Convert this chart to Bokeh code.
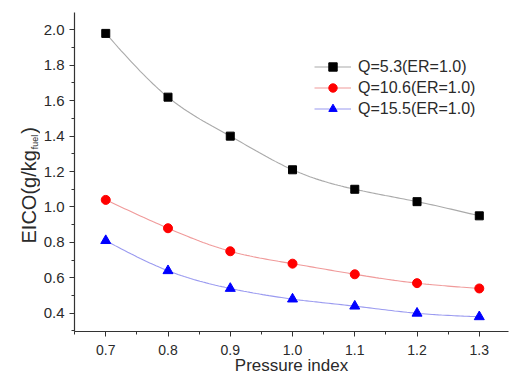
import numpy as np
from bokeh.plotting import figure
from bokeh.layouts import row
from bokeh.models import Range1d, FixedTicker, Legend, LegendItem
from bokeh.core.properties import value
from bokeh.embed import file_html
from bokeh.resources import INLINE

# ---- data ----
pressure_index = [0.7, 0.8, 0.9, 1.0, 1.1, 1.2, 1.3]
eico_q53 = [1.98, 1.62, 1.40, 1.21, 1.10, 1.03, 0.95]
eico_q106 = [1.04, 0.88, 0.75, 0.68, 0.62, 0.57, 0.54]
eico_q155 = [0.81, 0.64, 0.54, 0.48, 0.44, 0.40, 0.38]
series_names = ["Q=5.3(ER=1.0)", "Q=10.6(ER=1.0)", "Q=15.5(ER=1.0)"]
x_ticks = [0.7, 0.8, 0.9, 1.0, 1.1, 1.2, 1.3]
x_tick_labels = ["0.7", "0.8", "0.9", "1.0", "1.1", "1.2", "1.3"]
y_ticks = [0.4, 0.6, 0.8, 1.0, 1.2, 1.4, 1.6, 1.8, 2.0]
y_tick_labels = ["0.4", "0.6", "0.8", "1.0", "1.2", "1.4", "1.6", "1.8", "2.0"]
x_title = "Pressure index"
y_title_main = "EICO(g/kg"
y_title_sub = "fuel"
y_title_end = ")"


def smooth(xs, ys, n=120):
    """Natural cubic spline through the data points (for drawing the curve)."""
    x = np.asarray(xs, float)
    y = np.asarray(ys, float)
    m = len(x)
    h = np.diff(x)
    A = np.zeros((m, m))
    r = np.zeros(m)
    A[0, 0] = A[-1, -1] = 1.0
    for i in range(1, m - 1):
        A[i, i - 1] = h[i - 1]
        A[i, i] = 2 * (h[i - 1] + h[i])
        A[i, i + 1] = h[i]
        r[i] = 3 * ((y[i + 1] - y[i]) / h[i] - (y[i] - y[i - 1]) / h[i - 1])
    c = np.linalg.solve(A, r)
    b = (y[1:] - y[:-1]) / h - h * (2 * c[:-1] + c[1:]) / 3
    d = (c[1:] - c[:-1]) / (3 * h)
    xx = np.linspace(x[0], x[-1], n)
    idx = np.clip(np.searchsorted(x, xx, side="right") - 1, 0, m - 2)
    dx = xx - x[idx]
    yy = y[idx] + b[idx] * dx + c[idx] * dx ** 2 + d[idx] * dx ** 3
    return xx, yy


TOTAL_W, H = 510, 382
TW = 40                      # width of the strip holding the y-axis title
W = TOTAL_W - TW
FRAME_LEFT = 73 - TW
TOP, BOTTOM, RIGHT = 12, 51, 2
frame_w = W - FRAME_LEFT - RIGHT
frame_h = H - TOP - BOTTOM
x0 = 0.6498
x1 = x0 + frame_w / 624.0
y0, y1 = 0.297, 2.098
px_per_y = frame_h / (y1 - y0)

font = "Liberation Sans"
text_color = "#2a2a2a"
axis_color = "#333333"

yr = Range1d(y0, y1)
p = figure(width=W, height=H, output_backend="svg", toolbar_location=None,
           x_range=Range1d(x0, x1), y_range=yr,
           min_border_left=FRAME_LEFT, min_border_right=RIGHT,
           min_border_top=TOP, min_border_bottom=BOTTOM)
p.outline_line_color = None
p.xgrid.visible = False
p.ygrid.visible = False
p.background_fill_color = "white"
p.border_fill_color = "white"

for ax in (p.xaxis[0], p.yaxis[0]):
    ax.axis_line_color = axis_color
    ax.axis_line_width = 1.2
    ax.major_tick_line_color = axis_color
    ax.minor_tick_line_color = axis_color
    ax.major_tick_out = 5
    ax.major_tick_in = 0
    ax.minor_tick_out = 3
    ax.minor_tick_in = 0
    ax.major_label_text_font = font
    ax.major_label_text_color = text_color
p.yaxis[0].major_label_text_font_size = "15px"
p.xaxis[0].major_label_text_font_size = "14px"

x_minor = [round(t + 0.05, 2) for t in [0.6] + x_ticks]
y_minor = [round(t - 0.1, 2) for t in y_ticks] + [2.1]
p.xaxis[0].ticker = FixedTicker(ticks=x_ticks, minor_ticks=x_minor)
p.yaxis[0].ticker = FixedTicker(ticks=y_ticks, minor_ticks=y_minor)
p.xaxis[0].major_label_overrides = dict(zip(x_ticks, x_tick_labels))
p.yaxis[0].major_label_overrides = dict(zip(y_ticks, y_tick_labels))
p.xaxis[0].major_label_standoff = 8
p.yaxis[0].major_label_standoff = 5

p.xaxis[0].axis_label = x_title
p.xaxis[0].axis_label_text_font = font
p.xaxis[0].axis_label_text_font_size = "17px"
p.xaxis[0].axis_label_text_font_style = "normal"
p.xaxis[0].axis_label_text_color = text_color
p.xaxis[0].axis_label_standoff = -2

line_colors = ["#aaaaaa", "#f09a9a", "#9a9af0"]
marker_colors = ["#000000", "#ff0000", "#0000ff"]
markers = ["square", "circle", "triangle"]
sizes = [8, 9, 10]
series = [eico_q53, eico_q106, eico_q155]

items = []
for ys, lc, mc, mk, sz, name in zip(series, line_colors, marker_colors, markers, sizes, series_names):
    sx, sy = smooth(pressure_index, ys)
    r1 = p.line(sx, sy, line_color=lc, line_width=1.1)
    r2 = p.scatter(pressure_index, ys, marker=mk, size=sz, fill_color=mc, line_color=mc)
    items.append(LegendItem(label=name, renderers=[r1, r2]))

legend = Legend(items=items, location=(240, 212), padding=0, margin=0, spacing=0,
                glyph_width=37, glyph_height=21, label_height=21, label_standoff=7,
                label_text_font=font, label_text_font_size="16px",
                label_text_color=text_color, border_line_color=None,
                background_fill_alpha=0)
p.add_layout(legend, "center")

# ---- y-axis title strip (rotated text with subscript) sharing the plot's y range ----
t = figure(width=TW, height=H, output_backend="svg", toolbar_location=None, title=None,
           x_range=Range1d(0, TW), y_range=yr,
           x_axis_type=None, y_axis_type=None,
           min_border_left=0, min_border_right=0,
           min_border_top=TOP, min_border_bottom=BOTTOM)
t.outline_line_color = None
t.xgrid.visible = False
t.ygrid.visible = False
t.background_fill_color = "white"
t.border_fill_color = "white"

main_fs, sub_fs = 20, 9
base_x = 28
start_px = 243 - TOP                      # bottom end of "E", px below frame top
start_y = y1 - start_px / px_per_y
main_len = 4.668 * main_fs / px_per_y     # advance of "EICO(g/kg" (Arial metrics)
sub_len = 1.612 * sub_fs / px_per_y       # advance of "fuel"
gap = 1.0 / px_per_y
common = dict(angle=np.pi / 2, text_align="left", text_baseline="alphabetic",
              text_font=value(font), text_color=text_color)
t.text(x=[base_x], y=[start_y], text=[y_title_main], text_font_size=f"{main_fs}px", **common)
t.text(x=[base_x + 6], y=[start_y + main_len + gap], text=[y_title_sub],
       text_font_size=f"{sub_fs}px", **common)
t.text(x=[base_x], y=[start_y + main_len + sub_len + 2 * gap], text=[y_title_end],
       text_font_size=f"{main_fs}px", **common)

layout = row(t, p, spacing=0)
open("out.html", "w").write(file_html(layout, INLINE))
